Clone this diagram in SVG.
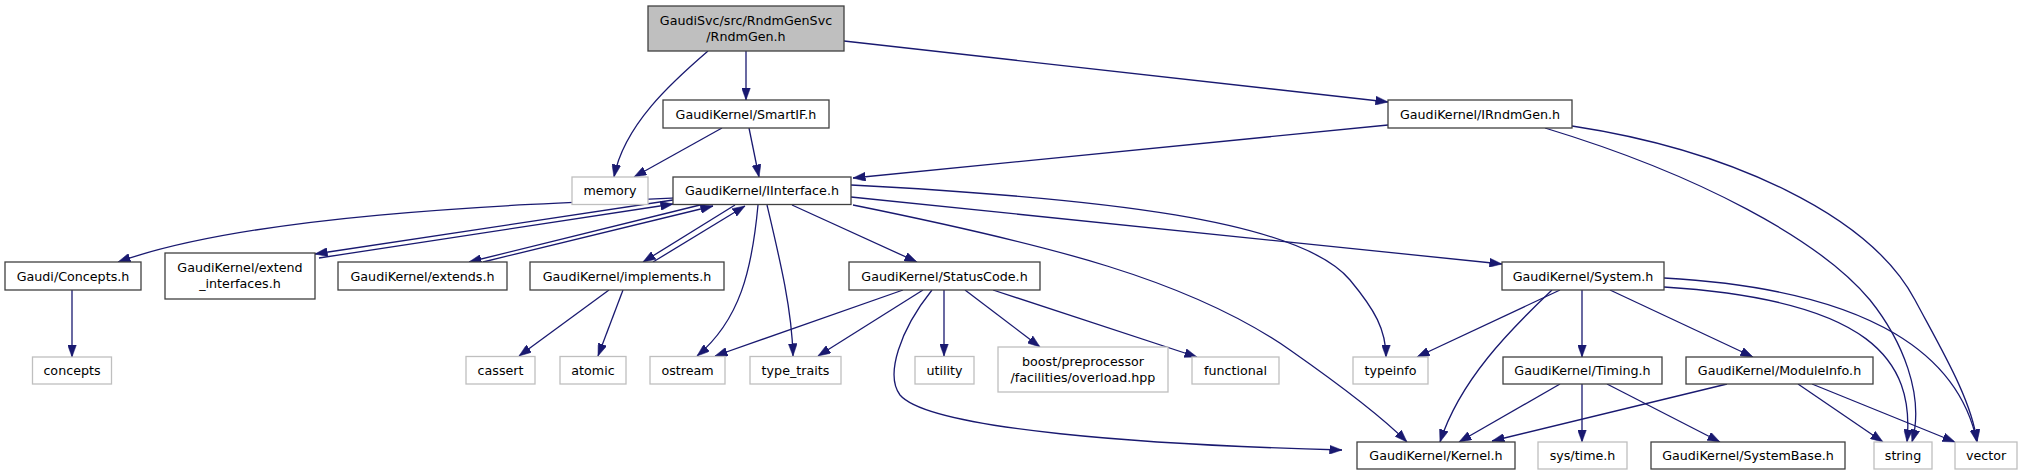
<svg xmlns="http://www.w3.org/2000/svg" width="2030" height="476" viewBox="0 0 2030 476">
<style>
.n rect{fill:#ffffff;stroke:#404040;stroke-width:1.3}
.g rect{fill:#ffffff;stroke:#bfbfbf;stroke-width:1.3}
.r rect{fill:#bfbfbf;stroke:#404040;stroke-width:1.3}
text{font-family:"DejaVu Sans","Liberation Sans",sans-serif;font-size:12.7px;fill:#000000;text-anchor:middle}
#edges path{fill:none;stroke:#191970;stroke-width:1.3;marker-end:url(#arrow)}
</style>
<defs>
<marker id="arrow" markerUnits="userSpaceOnUse" markerWidth="12.5" markerHeight="9" viewBox="0 0 12.5 9" refX="12.5" refY="4.5" orient="auto">
<path d="M0,0 L12.5,4.5 L0,9 z" fill="#191970" stroke="#191970" stroke-width="0.5"/>
</marker>
</defs>
<rect x="0" y="0" width="2030" height="476" fill="#ffffff"/>
<g id="edges">
<path d="M708,51 C672,82 624,125 614,177"/>
<path d="M746,51 L746,100"/>
<path d="M844,41 L1388,102"/>
<path d="M722,128 L634,177"/>
<path d="M749,128 L759,177"/>
<path d="M1388,125 L853,178"/>
<path d="M1545,128 C1700,175 1820,240 1870,300 C1902,340 1925,395 1912,442"/>
<path d="M1572,126 C1730,150 1870,215 1915,300 C1940,347 1972,400 1977,442"/>
<path d="M673,198 C500,205 250,215 118,262"/>
<path d="M673,200 L315,254"/>
<path d="M319,258 L673,204"/>
<path d="M700,205 L469,262"/>
<path d="M483,262 L713,206"/>
<path d="M735,205 L643,262"/>
<path d="M653,262 L745,206"/>
<path d="M758,205 C752,270 740,320 697,356"/>
<path d="M767,205 C780,260 792,310 793,356"/>
<path d="M792,205 L917,262"/>
<path d="M851,197 L1502,264"/>
<path d="M851,185 C1100,198 1300,220 1350,280 C1375,310 1386,330 1386,357"/>
<path d="M853,205 C1050,245 1190,280 1290,350 C1340,385 1380,415 1407,442"/>
<path d="M903,290 L715,356"/>
<path d="M923,290 L818,356"/>
<path d="M932,290 C900,330 885,375 900,395 C930,430 1150,445 1342,450"/>
<path d="M944,290 L944,356"/>
<path d="M965,290 L1040,347"/>
<path d="M993,290 L1197,357"/>
<path d="M72,290 L72,357"/>
<path d="M609,290 L519,356"/>
<path d="M623,290 L598,356"/>
<path d="M1560,290 L1417,357"/>
<path d="M1552,290 C1510,330 1460,380 1440,442"/>
<path d="M1582,290 L1582,357"/>
<path d="M1610,290 L1753,357"/>
<path d="M1664,287 C1870,300 1915,360 1907,442"/>
<path d="M1664,278 C1880,290 1960,360 1977,442"/>
<path d="M1582,384 L1582,442"/>
<path d="M1607,384 L1720,442"/>
<path d="M1560,384 L1459,442"/>
<path d="M1727,384 L1492,441"/>
<path d="M1798,384 L1883,442"/>
<path d="M1812,384 L1955,442"/>
</g>
<g id="node1" class="r"><rect x="648" y="6" width="196" height="45"/><text x="746" y="24.5">GaudiSvc/src/RndmGenSvc</text><text x="746" y="40.5">/RndmGen.h</text></g>
<g id="node2" class="n"><rect x="663" y="100" width="166" height="28"/><text x="746" y="118.5">GaudiKernel/SmartIF.h</text></g>
<g id="node3" class="n"><rect x="1388" y="100" width="184" height="28"/><text x="1480" y="118.5">GaudiKernel/IRndmGen.h</text></g>
<g id="node4" class="g"><rect x="572" y="177" width="76" height="27.5"/><text x="610" y="195">memory</text></g>
<g id="node5" class="n"><rect x="673" y="177" width="178" height="27.5"/><text x="762" y="195">GaudiKernel/IInterface.h</text></g>
<g id="node6" class="n"><rect x="5" y="262" width="136" height="28"/><text x="73" y="280.5">Gaudi/Concepts.h</text></g>
<g id="node7" class="n"><rect x="165" y="253" width="150" height="46"/><text x="240" y="272">GaudiKernel/extend</text><text x="240" y="288">_interfaces.h</text></g>
<g id="node8" class="n"><rect x="338" y="262" width="169" height="28"/><text x="422.5" y="280.5">GaudiKernel/extends.h</text></g>
<g id="node9" class="n"><rect x="530" y="262" width="194" height="28"/><text x="627" y="280.5">GaudiKernel/implements.h</text></g>
<g id="node10" class="n"><rect x="849" y="262" width="191" height="28"/><text x="944.5" y="280.5">GaudiKernel/StatusCode.h</text></g>
<g id="node11" class="n"><rect x="1502" y="262" width="162" height="28"/><text x="1583" y="280.5">GaudiKernel/System.h</text></g>
<g id="node12" class="g"><rect x="32.5" y="357" width="79" height="27"/><text x="72" y="375">concepts</text></g>
<g id="node13" class="g"><rect x="466" y="356.5" width="69" height="27.5"/><text x="500.5" y="375">cassert</text></g>
<g id="node14" class="g"><rect x="560" y="356.5" width="66" height="27.5"/><text x="593" y="375">atomic</text></g>
<g id="node15" class="g"><rect x="650" y="356.5" width="75" height="27.5"/><text x="687.5" y="375">ostream</text></g>
<g id="node16" class="g"><rect x="750" y="356.5" width="91" height="27.5"/><text x="795.5" y="375">type_traits</text></g>
<g id="node17" class="g"><rect x="915" y="356.5" width="59" height="27.5"/><text x="944.5" y="375">utility</text></g>
<g id="node18" class="g"><rect x="998" y="347" width="170" height="45"/><text x="1083" y="365.5">boost/preprocessor</text><text x="1083" y="381.5">/facilities/overload.hpp</text></g>
<g id="node19" class="g"><rect x="1192" y="357" width="87" height="27"/><text x="1235.5" y="375">functional</text></g>
<g id="node20" class="g"><rect x="1353" y="357" width="75" height="27"/><text x="1390.5" y="375">typeinfo</text></g>
<g id="node21" class="n"><rect x="1503" y="357" width="159" height="27"/><text x="1582.5" y="375">GaudiKernel/Timing.h</text></g>
<g id="node22" class="n"><rect x="1686" y="357" width="187" height="27"/><text x="1779.5" y="375">GaudiKernel/ModuleInfo.h</text></g>
<g id="node23" class="n"><rect x="1357" y="442" width="158" height="27"/><text x="1436" y="460">GaudiKernel/Kernel.h</text></g>
<g id="node24" class="g"><rect x="1538" y="442" width="89" height="27"/><text x="1582.5" y="460">sys/time.h</text></g>
<g id="node25" class="n"><rect x="1651" y="442" width="194" height="27"/><text x="1748" y="460">GaudiKernel/SystemBase.h</text></g>
<g id="node26" class="g"><rect x="1874" y="442" width="58" height="27"/><text x="1903" y="460">string</text></g>
<g id="node27" class="g"><rect x="1955" y="442" width="62" height="27"/><text x="1986" y="460">vector</text></g>
</svg>
